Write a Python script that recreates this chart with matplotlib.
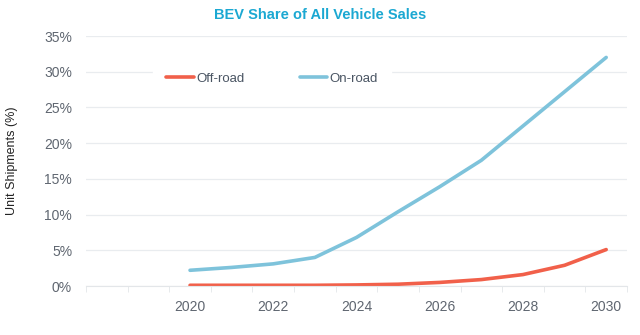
import matplotlib
matplotlib.use("Agg")
from matplotlib import pyplot as plt
from matplotlib.ticker import FuncFormatter, MultipleLocator

# Data
years = [2020, 2021, 2022, 2023, 2024, 2025, 2026, 2027, 2028, 2029, 2030]
off_road = [0.1, 0.1, 0.1, 0.1, 0.15, 0.25, 0.5, 0.9, 1.6, 2.9, 5.1]
on_road = [2.2, 2.6, 3.1, 4.0, 6.8, 10.4, 13.9, 17.6, 22.4, 27.2, 32.0]
year_ticks = [2020, 2022, 2024, 2026, 2028, 2030]
pct_ticks = [0, 5, 10, 15, 20, 25, 30, 35]

plt.rcParams['font.family'] = ['Liberation Sans', 'DejaVu Sans']

fig = plt.figure(figsize=(6.4, 3.35), dpi=100)
ax = fig.add_axes([86 / 640, 1 - 286 / 335, (627 - 86) / 640, 250 / 335])

ax.plot(years, off_road, color="#F1604A", lw=2.6, label="Off-road", solid_capstyle="round")
ax.plot(years, on_road, color="#7EC3DB", lw=2.6, label="On-road", solid_capstyle="round")

ax.set_xlim(2017.5, 2030.5)
ax.set_ylim(0, 35)
ax.set_xticks(year_ticks)
ax.xaxis.set_minor_locator(MultipleLocator(1, offset=0.5))
ax.set_yticks(pct_ticks)
ax.yaxis.set_major_formatter(FuncFormatter(lambda v, p: f"{v:.0f}%"))

ax.grid(axis="y", color="#E9ECEF", lw=0.9)
ax.set_axisbelow(True)
for s in ["top", "right", "left"]:
    ax.spines[s].set_visible(False)
ax.spines["bottom"].set_color("#E3E6E9")
ax.tick_params(axis="y", length=0, pad=10, labelsize=10, labelcolor="#5F6670")
ax.tick_params(axis="x", which="major", length=0, pad=10, labelsize=10, labelcolor="#5F6670")
ax.tick_params(axis="x", which="minor", length=4, color="#E3E6E9")

fig.text(12 / 640, 1 - 161 / 335, "Unit Shipments (%)", rotation=90,
         ha="center", va="center", fontsize=9, color="#222222")

fig.suptitle("BEV Share of All Vehicle Sales", x=0.5, y=0.975, fontsize=10.5,
             fontweight="bold", color="#1BA8D2")

leg = ax.legend(loc="center", bbox_to_anchor=(272 / 640, 1 - 79 / 335),
                bbox_transform=fig.transFigure, ncol=2, frameon=True,
                fancybox=False, framealpha=1, edgecolor="white",
                fontsize=9.5, handlelength=2.1, handletextpad=0.15,
                columnspacing=4.2, borderpad=1.0, borderaxespad=0)
for t in leg.get_texts():
    t.set_color("#4A5563")

fig.savefig("out.png", dpi=100)
